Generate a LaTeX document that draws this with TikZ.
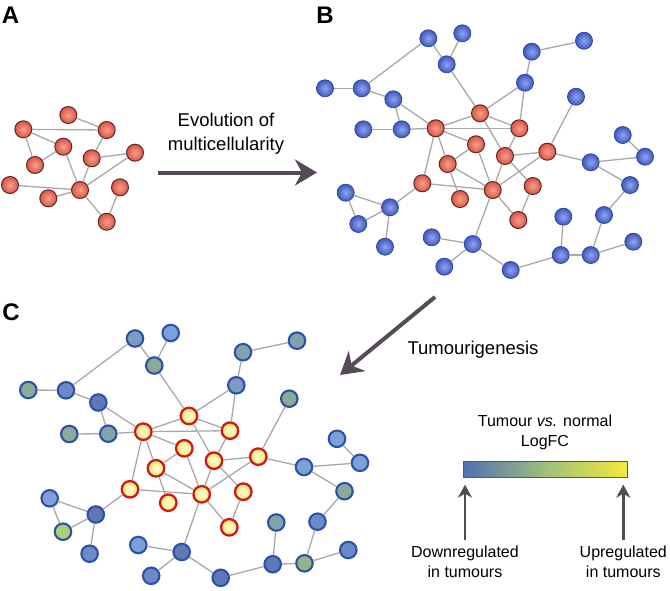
\documentclass[tikz,border=0pt]{standalone}
\usepackage{fontspec}
\setmainfont{Liberation Sans}
\usetikzlibrary{arrows.meta}
\definecolor{edgegray}{HTML}{A8A8A8}
\definecolor{redin}{HTML}{F8A090}
\definecolor{redout}{HTML}{DA5444}
\definecolor{redborder}{HTML}{5E2A22}
\definecolor{bluein}{HTML}{8FA6EE}
\definecolor{blueout}{HTML}{3F58BC}
\definecolor{blueborder}{HTML}{2F47A6}
\definecolor{yellin}{HTML}{FFFDE4}
\definecolor{yellout}{HTML}{F6EA6A}
\definecolor{yellborder}{HTML}{D01818}
\definecolor{cborder}{HTML}{2E50A8}
\definecolor{cLB}{HTML}{7CA1D8}
\definecolor{cMB}{HTML}{6A8AC8}
\definecolor{cDB}{HTML}{5F78B6}
\definecolor{cGB}{HTML}{7B9CBE}
\definecolor{cTL}{HTML}{7EA4AC}
\definecolor{cGR}{HTML}{89AC98}
\definecolor{cGG}{HTML}{92B488}
\definecolor{cYG}{HTML}{AAD272}
\definecolor{arrowcol}{HTML}{564A58}
\definecolor{barl}{HTML}{5070B4}
\definecolor{barm}{HTML}{9EBE7C}
\definecolor{barr}{HTML}{F2EA3C}
\definecolor{barborder}{HTML}{3A58A8}
\begin{document}
\begin{tikzpicture}[x=1pt,y=-1pt,
  edge/.style={draw=edgegray, line width=1.3pt},
  rn/.style={circle, minimum size=17pt, inner sep=0pt, inner color=redin, outer color=redout, draw=redborder, line width=1pt},
  bn/.style={circle, minimum size=17pt, inner sep=0pt, inner color=bluein, outer color=blueout, draw=blueborder, line width=0.8pt},
  yn/.style={circle, minimum size=16.5pt, inner sep=0pt, inner color=yellin, outer color=yellout, draw=yellborder, line width=2.3pt},
  cn/.style={circle, minimum size=16.5pt, inner sep=0pt, draw=cborder, line width=2.1pt},
  bigarrow/.style={draw=arrowcol, line width=4pt, -{Stealth[length=22pt,width=26pt,inset=7pt]}},
  uparrow/.style={draw=arrowcol, line width=2.5pt, -{Stealth[length=13pt,width=14pt,inset=4pt]}},
  panel/.style={font=\fontsize{24}{24}\selectfont\bfseries, inner sep=0pt},
  bigtext/.style={font=\fontsize{18.5}{24}\selectfont, align=center, inner sep=0pt},
  legtext/.style={font=\fontsize{16}{20}\selectfont, align=center, inner sep=0pt}
]
\useasboundingbox (0,0) rectangle (670,590);

% ---------- Panel labels ----------
\node[panel] (lA) at (10.5,15) {A};
\node[panel] (lB) at (325,15) {B};
\node[panel] (lC) at (11,312.5) {C};

% ---------- Panel A ----------
\node[rn] (a1) at (68.3,115) {};
\node[rn] (a2) at (23.3,129.3) {};
\node[rn] (a3) at (106.7,130) {};
\node[rn] (a4) at (63.3,146.7) {};
\node[rn] (a5) at (35,165) {};
\node[rn] (a6) at (91.7,158.3) {};
\node[rn] (a7) at (135,152.7) {};
\node[rn] (a8) at (10,185) {};
\node[rn] (a9) at (80,190) {};
\node[rn] (a10) at (48.3,198.3) {};
\node[rn] (a11) at (120,187.3) {};
\node[rn] (a12) at (106.7,221.7) {};
\foreach \u/\v in {a1/a3,a2/a3,a2/a4,a2/a5,a4/a5,a4/a9,a3/a6,a6/a7,a6/a9,a7/a9,a8/a9,a10/a9,a9/a12,a11/a12}
  \draw[edge] (\u) -- (\v);

% ---------- Arrow A -> B ----------
\node[bigtext] (evo) at (226,134) {Evolution of\\multicellularity};
\coordinate (e1s) at (158,172.5);
\coordinate (e1e) at (317,172.5);
\draw[bigarrow] (e1s) -- (e1e);

% ---------- Panel B ----------
\node[bn] (b1) at (428.3,38.3) {};
\node[bn] (b2) at (462.3,33.3) {};
\node[bn] (b3) at (446.7,64.3) {};
\node[bn] (b4) at (531.7,51.7) {};
\node[bn] (b5) at (584,40.7) {};
\node[bn] (b6) at (525,82.7) {};
\node[bn] (b7) at (325,88.3) {};
\node[bn] (b8) at (361.7,88.3) {};
\node[bn] (b9) at (393.3,99.3) {};
\node[bn] (b10) at (576,96.7) {};
\node[bn] (b11) at (363.3,129.3) {};
\node[bn] (b12) at (401.7,129.3) {};
\node[bn] (b13) at (622.7,135) {};
\node[bn] (b14) at (645,156.7) {};
\node[bn] (b15) at (590.7,162.3) {};
\node[bn] (b16) at (630,185) {};
\node[bn] (b17) at (345.7,192.7) {};
\node[bn] (b18) at (390,207.3) {};
\node[bn] (b19) at (358.3,224) {};
\node[bn] (b20) at (385,246.7) {};
\node[bn] (b21) at (604,215) {};
\node[bn] (b22) at (563.3,216.7) {};
\node[bn] (b23) at (431.7,237.3) {};
\node[bn] (b24) at (472.7,244) {};
\node[bn] (b25) at (633.3,241.7) {};
\node[bn] (b26) at (560.7,255) {};
\node[bn] (b27) at (590.7,255) {};
\node[bn] (b28) at (444.3,266.7) {};
\node[bn] (b29) at (510.7,270) {};
\node[rn] (br1) at (480,113.3) {};
\node[rn] (br2) at (435.7,128.3) {};
\node[rn] (br3) at (519.3,128.3) {};
\node[rn] (br4) at (476,144.3) {};
\node[rn] (br5) at (505,156) {};
\node[rn] (br6) at (547.3,151.7) {};
\node[rn] (br7) at (447.7,164) {};
\node[rn] (br8) at (422.3,183.3) {};
\node[rn] (br9) at (492.7,190) {};
\node[rn] (br10) at (532.7,186) {};
\node[rn] (br11) at (460,199) {};
\node[rn] (br12) at (518.3,220) {};
\foreach \u/\v in {b1/b8,b1/b3,b2/b3,b3/br1,b4/b5,b4/b6,b6/br1,b6/br3,b7/b8,b8/b9,b9/b12,b9/br2,b11/b12,b12/br2,b10/br6,
  b13/b14,b14/b15,b15/br6,b15/b16,b16/b21,b21/b27,b22/b26,b26/b27,b27/b25,b26/b29,b29/b24,b24/b23,b24/b28,b24/br9,
  b17/b18,b17/b19,b19/b18,b18/b20,b18/br8,
  br1/br2,br1/br3,br1/br5,br2/br3,br2/br4,br2/br7,br2/br8,br3/br5,br4/br7,br4/br9,br5/br6,br5/br9,br5/br10,br6/br9,
  br7/br11,br7/br9,br8/br9,br9/br12,br10/br12}
  \draw[edge] (\u) -- (\v);

% ---------- Arrow B -> C ----------
\node[bigtext] (tum) at (473,350) {Tumourigenesis};
\coordinate (e2s) at (435,297);
\coordinate (e2e) at (340,375);
\draw[bigarrow] (e2s) -- (e2e);

% ---------- Panel C ----------
\node[cn, fill=cGB] (c1) at (135,338.5) {};
\node[cn, fill=cLB] (c2) at (170.7,333) {};
\node[cn, fill=cGR] (c3) at (154.3,365.5) {};
\node[cn, fill=cTL] (c4) at (243,352.2) {};
\node[cn, fill=cTL] (c5) at (297,340.7) {};
\node[cn, fill=cGB] (c6) at (236.3,385.3) {};
\node[cn, fill=cGR] (c7) at (28.3,390) {};
\node[cn, fill=cMB] (c8) at (66,390.3) {};
\node[cn, fill=cDB] (c9) at (98.3,402.5) {};
\node[cn, fill=cGR] (c10) at (289.3,398.7) {};
\node[cn, fill=cGR] (c11) at (69.3,434) {};
\node[cn, fill=cTL] (c12) at (108.3,433.7) {};
\node[cn, fill=cLB] (c13) at (337,438.8) {};
\node[cn, fill=cLB] (c14) at (360,462.8) {};
\node[cn, fill=cLB] (c15) at (304,467) {};
\node[cn, fill=cGR] (c16) at (344.5,491.2) {};
\node[cn, fill=cLB] (c17) at (49.7,498.3) {};
\node[cn, fill=cDB] (c18) at (95.8,514.5) {};
\node[cn, fill=cYG] (c19) at (63,531.7) {};
\node[cn, fill=cMB] (c20) at (89.6,553.7) {};
\node[cn, fill=cMB] (c21) at (317.5,521.7) {};
\node[cn, fill=cTL] (c22) at (276.3,522.5) {};
\node[cn, fill=cLB] (c23) at (138.3,545) {};
\node[cn, fill=cDB] (c24) at (181.7,552) {};
\node[cn, fill=cMB] (c25) at (348.3,550) {};
\node[cn, fill=cDB] (c26) at (272.7,564.2) {};
\node[cn, fill=cGG] (c27) at (304.5,563.3) {};
\node[cn, fill=cMB] (c28) at (151.2,575.8) {};
\node[cn, fill=cDB] (c29) at (220.7,577.8) {};
\node[yn] (cr1) at (189,416) {};
\node[yn] (cr2) at (143.3,431.7) {};
\node[yn] (cr3) at (230,430.7) {};
\node[yn] (cr4) at (184.3,448.3) {};
\node[yn] (cr5) at (214,460.7) {};
\node[yn] (cr6) at (258.3,456.7) {};
\node[yn] (cr7) at (156,468.3) {};
\node[yn] (cr8) at (130,489.3) {};
\node[yn] (cr9) at (201.7,494.3) {};
\node[yn] (cr10) at (243.3,491.7) {};
\node[yn] (cr11) at (168.3,502.7) {};
\node[yn] (cr12) at (229.3,527.3) {};
\foreach \u/\v in {c1/c8,c1/c3,c2/c3,c3/cr1,c4/c5,c4/c6,c6/cr1,c6/cr3,c7/c8,c8/c9,c9/c12,c9/cr2,c11/c12,c12/cr2,c10/cr6,
  c13/c14,c14/c15,c15/cr6,c15/c16,c16/c21,c21/c27,c22/c26,c26/c27,c27/c25,c26/c29,c29/c24,c24/c23,c24/c28,c24/cr9,
  c17/c18,c17/c19,c19/c18,c18/c20,c18/cr8,
  cr1/cr2,cr1/cr3,cr1/cr5,cr2/cr3,cr2/cr4,cr2/cr7,cr2/cr8,cr3/cr5,cr4/cr7,cr4/cr9,cr5/cr6,cr5/cr9,cr5/cr10,cr6/cr9,
  cr7/cr11,cr7/cr9,cr8/cr9,cr9/cr12,cr10/cr12}
  \draw[edge] (\u) -- (\v);

% ---------- Legend ----------
\node[legtext] (legtitle) at (545,432) {Tumour \textit{vs.} normal\\LogFC};
\node[draw=barborder, line width=0.8pt, minimum width=164pt, minimum height=15.5pt, inner sep=0pt,
      left color=barl, right color=barr, middle color=barm] (bar) at (545,469.5) {};
\node[legtext] (down) at (465,561.7) {Downregulated\\in tumours};
\node[legtext] (up) at (623.3,561.7) {Upregulated\\in tumours};
\draw[uparrow, shorten <=6pt, shorten >=7pt] (down.north) -- (down.north |- bar.south);
\draw[uparrow, shorten <=6pt, shorten >=7pt] (up.north) -- (up.north |- bar.south);
\end{tikzpicture}
\end{document}
